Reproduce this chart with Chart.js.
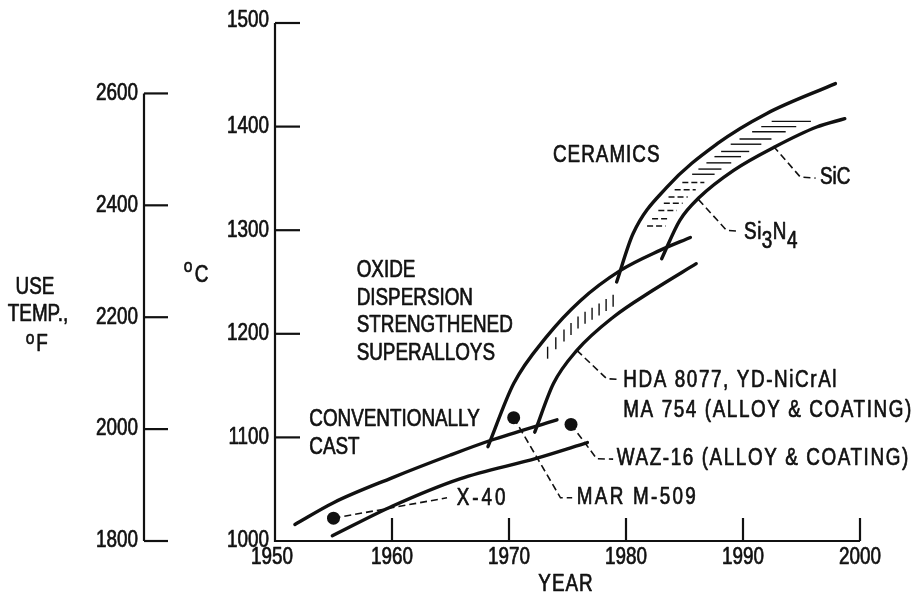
<!DOCTYPE html>
<html>
<head>
<meta charset="utf-8">
<script src="https://cdn.jsdelivr.net/npm/chart.js@4.4.1/dist/chart.umd.min.js"></script>
<style>
	html, body { margin: 0; padding: 0; background: #fff; }
</style>
</head>
<body>
<canvas id="chart" width="916" height="597"></canvas>
<script>
// axis ticks
const yearTicks = [1950, 1960, 1970, 1980, 1990, 2000];
const celsiusTicks = [1000, 1100, 1200, 1300, 1400, 1500];
const fahrenheitTicks = [1800, 2000, 2200, 2400, 2600];

// conventionally cast band
const castUpperYears = [1951.7, 1955, 1960, 1965, 1968.4, 1974.1];
const castUpperTemps = [1016, 1037, 1061, 1083, 1097, 1117];
const castLowerYears = [1954.9, 1960.1, 1965.8, 1972.4, 1976.7];
const castLowerTemps = [1005, 1034, 1060, 1080, 1095];

// oxide dispersion strengthened band
const odsUpperYears = [1968.2, 1970.4, 1973.2, 1976.1, 1979.5, 1982.9, 1985.5];
const odsUpperTemps = [1091, 1152, 1197, 1232, 1261, 1280.5, 1293];
const odsLowerYears = [1972.2, 1973.8, 1975.8, 1978.9, 1982.3, 1986.0];
const odsLowerTemps = [1105, 1152, 1184, 1216, 1242, 1267.7];

// ceramics band
const ceramicUpperYears = [1979.2, 1980.6, 1983.5, 1987.8, 1992.0, 1997.9];
const ceramicUpperTemps = [1250, 1296.6, 1341.6, 1383.5, 1412.5, 1441.5];
const ceramicLowerYears = [1983.05, 1984.6, 1986.3, 1989.2, 1992.7, 1996.3, 1998.7];
const ceramicLowerTemps = [1272.5, 1309.5, 1332, 1357.8, 1380.3, 1399.6, 1407.7];

// alloy points (X-40, MAR M-509, WAZ-16)
const alloyYears = [1955.0, 1970.4, 1975.3];
const alloyTemps = [1022, 1119, 1112.5];

// leader lines
const x40LeaderYears = [1955.0, 1964.7];
const x40LeaderTemps = [1022, 1041.7];
const marLeaderYears = [1970.4, 1974.4, 1975.4];
const marLeaderTemps = [1119, 1041.7, 1041.7];
const wazLeaderYears = [1975.3, 1977.5, 1978.9];
const wazLeaderTemps = [1112.5, 1079.4, 1079.0];
const hdaLeaderYears = [1975.8, 1978.35, 1979.5];
const hdaLeaderTemps = [1184, 1156.6, 1156];
const si3n4LeaderYears = [1986.2, 1988.6, 1989.7];
const si3n4LeaderTemps = [1329.5, 1299.8, 1299.1];
const sicLeaderYears = [1992.6, 1994.9, 1996.2];
const sicLeaderTemps = [1381, 1351.3, 1350.3];

// hatching inside the bands
const odsHatchYears = [1973.3, 1974.0, 1974.7, 1975.3, 1975.9, 1976.5, 1977.1, 1977.7, 1978.3, 1978.9];
const ceramicHatchTemps = [1405, 1400, 1395, 1388, 1383, 1376, 1371, 1365, 1359, 1354, 1346, 1339, 1332, 1326, 1319, 1311, 1304];

// Liberation Sans squeezed sideways stands in for the narrow lettering
const FONT = '"Liberation Sans", Arial, sans-serif';
const SQUEEZE = 0.82;
const INK = '#111';

// text notes placed in data units
const notes = [
	{ lines: ['CERAMICS'], year: 1973.76, temp: 1372, spacing: 1 },
	{ lines: ['OXIDE', 'DISPERSION', 'STRENGTHENED', 'SUPERALLOYS'], year: 1956.98, temp: 1261, step: 27.7 },
	{ lines: ['CONVENTIONALLY', 'CAST'], year: 1952.93, temp: 1117, step: 27.4 },
	{ lines: ['X-40'], year: 1965.53, temp: 1041, spacing: 3 },
	{ lines: ['MAR M-509'], year: 1975.79, temp: 1041.7, spacing: 2.3 },
	{ lines: ['WAZ-16 (ALLOY & COATING)'], year: 1979.21, temp: 1079.2, spacing: 1.6 },
	{ lines: ['HDA 8077, YD-NiCrAl', 'MA 754 (ALLOY & COATING)'], year: 1979.77, temp: 1155, step: 30, spacing: 1.6 },
	{ lines: ['SiC'], year: 1996.58, temp: 1350.5 },
];

function pts(xs, ys) {
	return xs.map((x, i) => ({ x, y: ys[i] }));
}

function curve(xs, ys) {
	return {
		data: pts(xs, ys),
		showLine: true,
		borderColor: INK,
		borderWidth: 3.4,
		borderCapStyle: 'round',
		pointRadius: 0,
		cubicInterpolationMode: 'monotone',
	};
}

function leader(xs, ys) {
	return {
		data: pts(xs, ys),
		showLine: true,
		borderColor: INK,
		borderWidth: 1.6,
		borderDash: [7, 4],
		pointRadius: 0,
		tension: 0,
	};
}

function toPixels(chart, xs, ys) {
	const { x, y } = chart.scales;
	return xs.map((v, i) => [x.getPixelForValue(v), y.getPixelForValue(ys[i])]);
}

// linear lookup along a pixel path, by x (k=0) or by y (k=1)
function along(path, v, k) {
	const o = 1 - k;
	for (let i = 0; i < path.length - 1; i++) {
		const a = path[i], b = path[i + 1];
		const lo = Math.min(a[k], b[k]), hi = Math.max(a[k], b[k]);
		if (v >= lo && v <= hi) {
			const t = (v - a[k]) / (b[k] - a[k]);
			return a[o] + t * (b[o] - a[o]);
		}
	}
	const first = path[0], last = path[path.length - 1];
	return Math.abs(v - first[k]) < Math.abs(v - last[k]) ? first[o] : last[o];
}

// draws squeezed, slightly heavier text, returns its drawn width
function write(ctx, str, x, y, size, align, spacing) {
	ctx.save();
	ctx.font = `${size}px ${FONT}`;
	ctx.letterSpacing = `${(spacing || 0) / SQUEEZE}px`;
	ctx.textAlign = align || 'left';
	ctx.textBaseline = 'middle';
	ctx.translate(x, y);
	ctx.scale(SQUEEZE, 1);
	ctx.fillText(str, 0, 0);
	ctx.lineWidth = 0.7;
	ctx.lineJoin = 'round';
	ctx.strokeText(str, 0, 0);
	const w = ctx.measureText(str).width * SQUEEZE;
	ctx.restore();
	return w;
}

const hatching = {
	id: 'hatching',
	beforeDatasetsDraw(chart) {
		const { ctx } = chart;
		const xs = chart.scales.x, ys = chart.scales.y;
		ctx.save();
		ctx.strokeStyle = INK;
		ctx.lineWidth = 1.4;

		const odsUp = toPixels(chart, odsUpperYears, odsUpperTemps);
		const odsLo = toPixels(chart, odsLowerYears, odsLowerTemps);
		odsHatchYears.forEach((yr, i) => {
			const px = xs.getPixelForValue(yr);
			const yu = along(odsUp, px, 0);
			const yl = along(odsLo, px, 0);
			const c = yu + (0.27 + 0.33 * i / (odsHatchYears.length - 1)) * (yl - yu);
			ctx.beginPath();
			ctx.moveTo(px, c - 6);
			ctx.lineTo(px, c + 6);
			ctx.stroke();
		});

		const cUp = toPixels(chart, ceramicUpperYears, ceramicUpperTemps);
		const cLo = toPixels(chart, ceramicLowerYears, ceramicLowerTemps);
		ceramicHatchTemps.forEach((t) => {
			const py = ys.getPixelForValue(t);
			const xu = along(cUp, py, 1);
			const xl = along(cLo, py, 1);
			ctx.setLineDash(t < 1348 ? [6, 3] : []);
			ctx.beginPath();
			ctx.moveTo(xu + 0.22 * (xl - xu), py);
			ctx.lineTo(xu + 0.7 * (xl - xu), py);
			ctx.stroke();
		});
		ctx.restore();
	},
};

const axesAndText = {
	id: 'axesAndText',
	afterDatasetsDraw(chart) {
		const { ctx, chartArea: a } = chart;
		const { x, y, yF } = chart.scales;
		ctx.save();
		ctx.strokeStyle = INK;
		ctx.fillStyle = INK;
		ctx.lineWidth = 2.2;

		// celsius axis with inward ticks
		ctx.beginPath();
		ctx.moveTo(a.left, y.getPixelForValue(celsiusTicks[celsiusTicks.length - 1]));
		ctx.lineTo(a.left, a.bottom);
		ctx.lineTo(x.getPixelForValue(yearTicks[yearTicks.length - 1]), a.bottom);
		ctx.stroke();
		celsiusTicks.forEach((t) => {
			const py = y.getPixelForValue(t);
			if (t > celsiusTicks[0]) {
				ctx.beginPath();
				ctx.moveTo(a.left, py);
				ctx.lineTo(a.left + 25, py);
				ctx.stroke();
			}
			write(ctx, String(t), a.left - 6, py - (t === 1500 ? 2 : 0), 23, 'right');
		});

		// year ticks pointing up
		yearTicks.forEach((t) => {
			const px = x.getPixelForValue(t);
			if (t > yearTicks[0]) {
				ctx.beginPath();
				ctx.moveTo(px, a.bottom);
				ctx.lineTo(px, a.bottom - 23);
				ctx.stroke();
			}
			write(ctx, String(t), t === yearTicks[0] ? px - 3 : px, a.bottom + 17, 23, 'center');
		});
		write(ctx, 'YEAR', 566, 585, 23, 'center', 1);

		// fahrenheit axis, off to the left
		const fx = 144;
		ctx.beginPath();
		ctx.moveTo(fx, yF.getPixelForValue(fahrenheitTicks[fahrenheitTicks.length - 1]));
		ctx.lineTo(fx, yF.getPixelForValue(fahrenheitTicks[0]));
		ctx.stroke();
		fahrenheitTicks.forEach((t) => {
			const py = yF.getPixelForValue(t);
			ctx.beginPath();
			ctx.moveTo(fx, py);
			ctx.lineTo(fx + 24, py);
			ctx.stroke();
			write(ctx, String(t), fx - 6, py, 23, 'right');
		});

		// axis titles
		write(ctx, 'USE', 35, 288, 23, 'center');
		write(ctx, 'TEMP.,', 38, 315, 23, 'center');
		write(ctx, 'o', 30, 339, 19, 'center');
		write(ctx, 'F', 42, 345, 23, 'center');
		write(ctx, 'o', 188, 267, 19, 'center');
		write(ctx, 'C', 201.5, 276, 23, 'center');

		// notes
		notes.forEach((n) => {
			const px = x.getPixelForValue(n.year);
			const py = y.getPixelForValue(n.temp);
			n.lines.forEach((line, i) => write(ctx, line, px, py + i * (n.step || 0), 23, 'left', n.spacing));
		});

		// Si3N4 with subscripts
		let sx = x.getPixelForValue(1990.09);
		const sy = y.getPixelForValue(1297.9);
		[['Si', 0], ['3', 9], ['N', 0], ['4', 9]].forEach(([s, dy]) => {
			sx += write(ctx, s, sx, sy + dy, 23, 'left', 0.5);
		});
		ctx.restore();
	},
};

new Chart(document.getElementById('chart'), {
	type: 'scatter',
	data: {
		datasets: [
			curve(castUpperYears, castUpperTemps),
			curve(castLowerYears, castLowerTemps),
			curve(odsUpperYears, odsUpperTemps),
			curve(odsLowerYears, odsLowerTemps),
			curve(ceramicUpperYears, ceramicUpperTemps),
			curve(ceramicLowerYears, ceramicLowerTemps),
			leader(x40LeaderYears, x40LeaderTemps),
			leader(marLeaderYears, marLeaderTemps),
			leader(wazLeaderYears, wazLeaderTemps),
			leader(hdaLeaderYears, hdaLeaderTemps),
			leader(si3n4LeaderYears, si3n4LeaderTemps),
			leader(sicLeaderYears, sicLeaderTemps),
			{
				data: pts(alloyYears, alloyTemps),
				pointRadius: 6.5,
				pointBackgroundColor: INK,
				pointBorderWidth: 0,
			},
		],
	},
	options: {
		responsive: false,
		animation: false,
		events: [],
		layout: { padding: { left: 275, right: 56, top: 23, bottom: 56 } },
		plugins: {
			legend: { display: false },
			tooltip: { enabled: false },
		},
		scales: {
			x: { type: 'linear', min: 1950, max: 2000, display: false },
			y: { type: 'linear', min: 1000, max: 1500, display: false },
			yF: { type: 'linear', min: 1800, max: 2725.9, display: false },
		},
	},
	plugins: [hatching, axesAndText],
});
</script>
</body>
</html>
